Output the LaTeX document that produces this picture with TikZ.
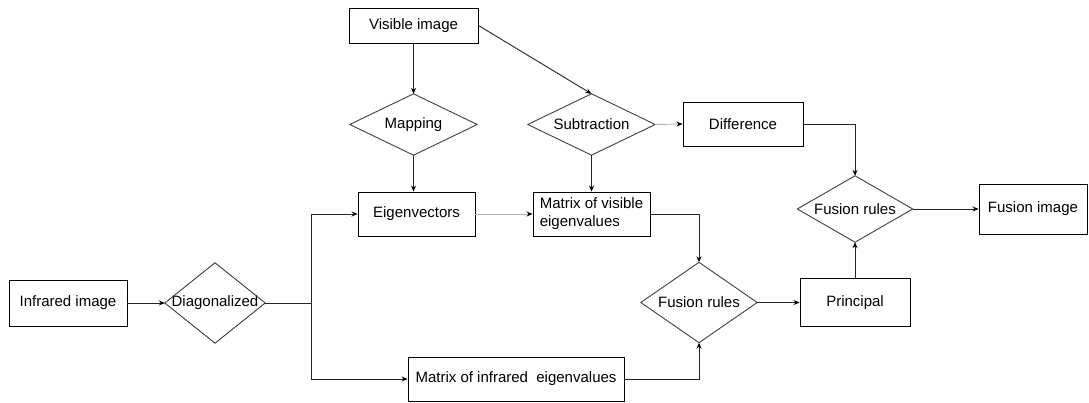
\documentclass[tikz,border=0pt]{standalone}
\usepackage{fontspec}
\setmainfont{Liberation Sans}
\usetikzlibrary{arrows.meta}
\begin{document}
\begin{tikzpicture}[x=1pt,y=-1pt,
  txt/.style={font=\fontsize{15}{18}\selectfont},
  box/.style={txt,draw=black,line width=0.9pt,inner sep=0pt},
  dnode/.style={txt,inner sep=0pt},
  dline/.style={draw=black!75,line width=0.9pt},
  conn/.style={line width=0.9pt,draw=black!85},
  arr/.style={conn,-{Stealth[length=6pt,width=5pt,color=black]}},
  light/.style={draw=black!30}]
\useasboundingbox (0,0) rectangle (1089,403);
\fill[white] (0,0) rectangle (1089,403);
% boxes
\node[box,minimum width=118,minimum height=46] (ir) at (68,303) {Infrared image};
\node[box,minimum width=129,minimum height=35] (vis) at (413.5,25.5) {Visible image};
\node[box,minimum width=117,minimum height=44] (eig) at (416.5,214) {Eigenvectors};
\node[box,minimum width=117,minimum height=44,align=left] (mvis) at (591.5,214) {Matrix of visible\\eigenvalues};
\node[box,minimum width=120,minimum height=44] (diff) at (743,124) {Difference};
\node[box,minimum width=108,minimum height=50] (fimg) at (1033,209) {Fusion image};
\node[box,minimum width=110,minimum height=48] (pr) at (855,302.5) {Principal};
\node[box,minimum width=216,minimum height=44] (mir) at (516,379) {Matrix of infrared\ \ eigenvalues};
% diamonds
\node[dnode,minimum width=100,minimum height=80] (diag) at (215,303) {Diagonalized};
\node[dnode,minimum width=127,minimum height=61] (map) at (413.5,124.5) {Mapping};
\node[dnode,minimum width=127,minimum height=61] (sub) at (591.5,124.5) {Subtraction};
\node[dnode,minimum width=115,minimum height=66] (fr1) at (855,209) {Fusion rules};
\node[dnode,minimum width=116,minimum height=80] (fr2) at (699,302.5) {Fusion rules};
\foreach \n in {diag,map,sub,fr1,fr2}
  \draw[dline] (\n.north) -- (\n.east) -- (\n.south) -- (\n.west) -- cycle;
\coordinate (br) at (311,303);
% connectors
\draw[arr] (ir.east) -- (diag.west);
\draw[conn] (diag.east) -- (br);
\draw[arr] (br) |- (eig.west);
\draw[arr] (br) |- (mir.west);
\draw[arr] (vis.south -| map.north) -- (map.north);
\draw[arr] (map.south) -- (map.south |- eig.north);
\draw[arr] (vis.east) -- (sub.north);
\draw[arr] (sub.south) -- (mvis.north);
\draw[arr,light] (sub.east) -- (diff.west);
\draw[arr,light] (eig.east) -- (mvis.west);
\draw[arr] (mvis.east) -| (fr2.north);
\draw[arr] (mir.east) -| (fr2.south);
\draw[arr] (fr2.east) -- (pr.west);
\draw[arr] (pr.north) -- (fr1.south);
\draw[arr] (diff.east) -| (fr1.north);
\draw[arr] (fr1.east) -- (fimg.west);
\end{tikzpicture}
\end{document}
